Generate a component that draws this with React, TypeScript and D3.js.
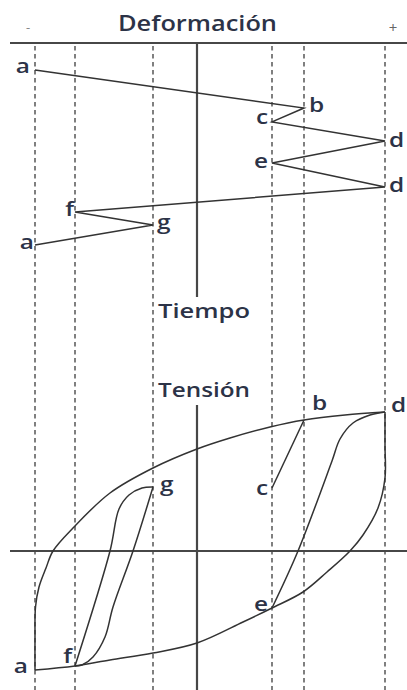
import React from 'react';
import * as d3 from 'd3';

const W = 407;
const H = 690;

// Turning points of the strain history (strain in arbitrary units, 0 = undeformed)
const turnLabels = ['a', 'b', 'c', 'd', 'e', 'd', 'f', 'g', 'a'];
const turnStrain = [-16.2, 10.7, 7.5, 18.8, 7.5, 18.8, -12.2, -4.4, -16.2];
const turnTime = [0, 1.73, 2.36, 3.23, 4.23, 5.32, 6.45, 7.05, 7.95];

// Strain levels marked by the dashed guides
const guideStrains = [-16.2, -12.2, -4.4, 7.5, 10.7, 18.8];

// Stress–strain branches, [strain, stress]
const loadingAB_D: [number, number][] = [
  [-16.2, -11.9], [-16.2, -8.6], [-16.15, -5.6], [-15.8, -3.6], [-15.1, -1.7],
  [-14.4, 0], [-12.4, 2.3], [-8.7, 5.8], [-4.4, 8.3], [0, 10.2], [3.3, 11.3],
  [7.3, 12.4], [10.7, 13.1], [14.8, 13.6], [18.8, 13.9],
];
const unloadBC: [number, number][] = [[10.7, 13.1], [7.5, 6.3]];
const reloadED: [number, number][] = [
  [7.5, -5.7], [10.1, 0], [13.5, 9.0], [14.3, 11.2], [15.6, 12.8], [17.3, 13.6], [18.8, 13.9],
];
const unloadDEFA: [number, number][] = [
  [18.8, 13.9], [18.8, 10.5], [18.8, 7.3], [18.1, 4.3], [16.6, 1.6], [15.3, 0],
  [13.0, -2.1], [10.6, -4.1], [7.5, -5.7], [4.6, -7.1], [0, -9.2], [-4.4, -10.2],
  [-8.7, -10.9], [-12.2, -11.5], [-16.2, -11.9],
];
const reloadFG: [number, number][] = [
  [-12.2, -11.5], [-8.7, 0], [-7.8, 4.2], [-6.8, 5.6], [-5.5, 6.3], [-4.4, 6.4],
];
const unloadGF: [number, number][] = [
  [-4.4, 6.4], [-6.4, 0], [-8.4, -5.6], [-9.2, -8.6], [-10.4, -10.6], [-11.5, -11.4], [-12.2, -11.5],
];

// Labelled points of the stress–strain plot
const loopLabels = ['a', 'f', 'g', 'c', 'b', 'd', 'e'];
const loopStrain = [-16.2, -12.2, -4.4, 7.5, 10.7, 18.8, 7.5];
const loopStress = [-11.9, -11.5, 6.4, 6.3, 13.1, 13.9, -5.7];

const INK = '#333333';
const AXIS = '#474747';
const TEXT = '#2c3347';
const FONT = "'Open Sans', 'Noto Sans', sans-serif";

// Scales
const x = d3.scaleLinear().domain([0, 10]).range([197, 297]);
const yTime = d3.scaleLinear().domain([0, 10]).range([70, 290]);
const yStress = d3.scaleLinear().domain([0, 10]).range([551, 451]);

// Label placement around each point: [anchor, dx, dy]
const timeLabelPlace: [string, number, number][] = [
  ['end', -5, 3], ['start', 5, 4], ['end', -4, 2], ['start', 4, 6], ['end', -4, 5],
  ['start', 4, 5], ['end', -1, 4], ['start', 4, 4], ['end', -1, 4],
];
const loopLabelPlace: [string, number, number][] = [
  ['end', -7, 3], ['end', -3, -3], ['start', 7, 4], ['end', -4, 7],
  ['start', 8, -10], ['start', 6, 0], ['end', -4, 3],
];

const Letter = ({ px, py, anchor, text }: { px: number; py: number; anchor: string; text: string }) => (
  <text
    transform={`translate(${px},${py}) scale(1.22,1)`}
    textAnchor={anchor as any}
    fontSize={20}
    fontWeight={600}
    fontFamily={FONT}
    fill={TEXT}
  >
    {text}
  </text>
);

export default function App() {
  const timeLine = d3.line<number>()
    .x((_, i) => x(turnStrain[i]))
    .y((_, i) => yTime(turnTime[i]));

  const loopLine = d3.line<[number, number]>()
    .x(d => x(d[0]))
    .y(d => yStress(d[1]))
    .curve(d3.curveCatmullRom.alpha(0.5));

  const straight = d3.line<[number, number]>()
    .x(d => x(d[0]))
    .y(d => yStress(d[1]));

  const branches = [loadingAB_D, reloadED, unloadDEFA, reloadFG, unloadGF];

  return (
    <svg
      width={W}
      height={H}
      viewBox={`0 0 ${W} ${H}`}
      style={{ position: 'absolute', left: 0, top: 0, background: '#fff' }}
    >
      {/* dashed strain guides */}
      {guideStrains.map((s, i) => (
        <line
          key={`g${i}`}
          x1={x(s)}
          x2={x(s)}
          y1={46}
          y2={H}
          stroke="#4a4a4a"
          strokeWidth={1.4}
          strokeDasharray="4.5,3.5"
        />
      ))}

      {/* strain–time axes */}
      <line x1={10} x2={W} y1={43} y2={43} stroke={AXIS} strokeWidth={2.2} />
      <line x1={x(0)} x2={x(0)} y1={43} y2={297} stroke={AXIS} strokeWidth={2.2} />

      {/* stress–strain axes */}
      <line x1={10} x2={W} y1={yStress(0)} y2={yStress(0)} stroke={AXIS} strokeWidth={2.2} />
      <line x1={x(0)} x2={x(0)} y1={405} y2={H} stroke={AXIS} strokeWidth={2.2} />

      {/* strain history */}
      <path d={timeLine(turnTime) ?? ''} fill="none" stroke={INK} strokeWidth={1.5} />

      {/* hysteresis branches */}
      {branches.map((b, i) => (
        <path key={`b${i}`} d={loopLine(b) ?? ''} fill="none" stroke={INK} strokeWidth={1.5} />
      ))}
      <path d={straight(unloadBC) ?? ''} fill="none" stroke={INK} strokeWidth={1.5} />

      {/* titles */}
      <text x={118} y={31} textLength={159} lengthAdjust="spacingAndGlyphs" fontSize={21} fontWeight={600} fontFamily={FONT} fill={TEXT}>
        Deformación
      </text>
      <text x={26} y={32} fontSize={13} fontFamily={FONT} fill="#888">-</text>
      <text x={393} y={33} textAnchor="middle" fontSize={15} fontFamily={FONT} fill="#666">+</text>
      <text x={158} y={318} textLength={92} lengthAdjust="spacingAndGlyphs" fontSize={19} fontWeight={600} fontFamily={FONT} fill={TEXT}>
        Tiempo
      </text>
      <text x={158} y={397} textLength={92} lengthAdjust="spacingAndGlyphs" fontSize={19} fontWeight={600} fontFamily={FONT} fill={TEXT}>
        Tensión
      </text>

      {/* point labels, strain–time */}
      {turnLabels.map((t, i) => {
        const [anchor, dx, dy] = timeLabelPlace[i];
        return (
          <Letter key={`t${i}`} px={x(turnStrain[i]) + dx} py={yTime(turnTime[i]) + dy} anchor={anchor} text={t} />
        );
      })}

      {/* point labels, stress–strain */}
      {loopLabels.map((t, i) => {
        const [anchor, dx, dy] = loopLabelPlace[i];
        return (
          <Letter key={`l${i}`} px={x(loopStrain[i]) + dx} py={yStress(loopStress[i]) + dy} anchor={anchor} text={t} />
        );
      })}
    </svg>
  );
}
